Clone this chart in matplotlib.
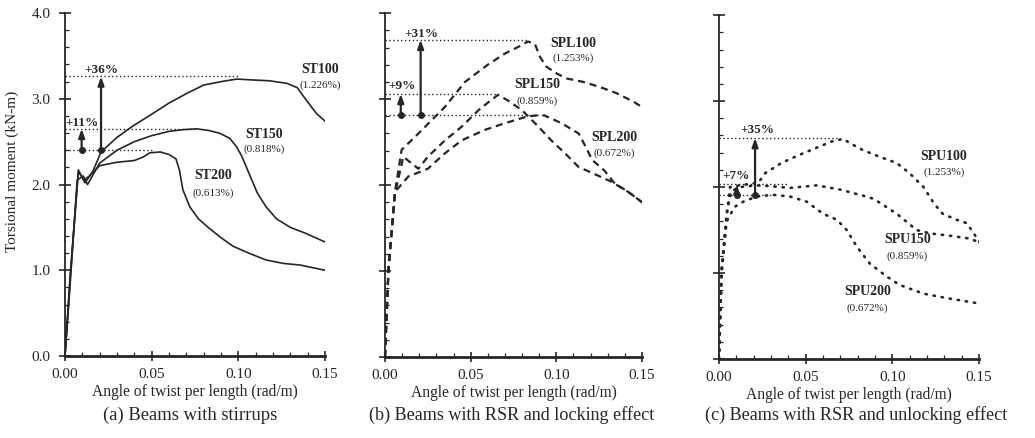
import matplotlib
matplotlib.use("Agg")
import matplotlib.pyplot as plt
from matplotlib.ticker import MultipleLocator

plt.rcParams['font.family'] = ['Liberation Serif', 'DejaVu Serif']

ink = '#262626'

# (a) beams with stirrups
st100_x = [0, 0.003, 0.0077, 0.0115, 0.016, 0.0208, 0.03, 0.039, 0.05, 0.06, 0.07, 0.08,
           0.09, 0.099, 0.108, 0.118, 0.128, 0.134, 0.139, 0.145, 0.15]
st100_y = [0, 0.9, 2.17, 2.02, 2.15, 2.38, 2.55, 2.68, 2.82, 2.95, 3.06, 3.16,
           3.2, 3.23, 3.22, 3.21, 3.18, 3.13, 2.99, 2.83, 2.74]
st150_x = [0, 0.003, 0.007, 0.0105, 0.013, 0.02, 0.03, 0.04, 0.05, 0.06, 0.068, 0.076,
           0.083, 0.089, 0.095, 0.099, 0.102, 0.107, 0.111, 0.116, 0.122, 0.13, 0.139, 0.15]
st150_y = [0, 0.85, 2.05, 2.1, 2.0, 2.25, 2.4, 2.5, 2.57, 2.62, 2.64, 2.65,
           2.63, 2.6, 2.54, 2.44, 2.33, 2.09, 1.9, 1.74, 1.6, 1.5, 1.43, 1.33]
st200_x = [0, 0.003, 0.0077, 0.011, 0.014, 0.02, 0.03, 0.04, 0.045, 0.049, 0.055, 0.06,
           0.064, 0.066, 0.068, 0.072, 0.077, 0.082, 0.09, 0.097, 0.106, 0.116, 0.126, 0.136, 0.15]
st200_y = [0, 0.95, 2.15, 2.05, 2.1, 2.22, 2.26, 2.28, 2.32, 2.37, 2.38, 2.35,
           2.3, 2.17, 1.94, 1.74, 1.6, 1.51, 1.38, 1.28, 1.2, 1.12, 1.08, 1.06, 1.0]

# (b) RSR, locking effect
spl100_x = [0, 0.002, 0.0058, 0.0097, 0.0195, 0.027, 0.035, 0.0467, 0.06, 0.07, 0.079,
            0.0835, 0.0875, 0.0905, 0.094, 0.1, 0.106, 0.1157, 0.1255, 0.135, 0.145, 0.1507]
spl100_y = [0, 1.05, 1.92, 2.41, 2.6, 2.75, 2.91, 3.2, 3.4, 3.53, 3.62,
            3.67, 3.64, 3.49, 3.38, 3.3, 3.24, 3.2, 3.14, 3.07, 2.97, 2.9]
spl150_x = [0, 0.002, 0.0058, 0.0107, 0.0156, 0.0195, 0.025, 0.035, 0.0448, 0.0545, 0.062,
            0.066, 0.072, 0.08, 0.0895, 0.097, 0.105, 0.113, 0.121, 0.132, 0.142, 0.1507]
spl150_y = [0, 1.0, 1.9, 2.33, 2.25, 2.19, 2.33, 2.52, 2.68, 2.87, 2.99,
            3.05, 2.98, 2.87, 2.68, 2.52, 2.37, 2.21, 2.14, 2.04, 1.92, 1.79]
spl200_x = [0, 0.002, 0.0058, 0.0136, 0.025, 0.035, 0.0448, 0.058, 0.07, 0.0817, 0.088,
            0.093, 0.103, 0.113, 0.117, 0.121, 0.128, 0.134, 0.142, 0.1507]
spl200_y = [0, 1.0, 1.92, 2.1, 2.19, 2.37, 2.52, 2.64, 2.72, 2.79, 2.81,
            2.81, 2.72, 2.6, 2.45, 2.29, 2.17, 2.02, 1.92, 1.79]

# (c) RSR, unlocking effect
spu100_x = [0, 0.0015, 0.0044, 0.0063, 0.012, 0.0227, 0.0265, 0.036, 0.0458, 0.0554, 0.065,
            0.0717, 0.0756, 0.083, 0.093, 0.1025, 0.11, 0.118, 0.124, 0.129, 0.137, 0.143,
            0.147, 0.1506]
spu100_y = [0, 1.07, 1.65, 2.0, 2.02, 2.05, 2.16, 2.28, 2.37, 2.45, 2.53,
            2.56, 2.51, 2.43, 2.35, 2.28, 2.16, 2.0, 1.81, 1.69, 1.62, 1.58, 1.46, 1.35]
spu150_x = [0, 0.0015, 0.0044, 0.007, 0.012, 0.0217, 0.03, 0.041, 0.0564, 0.07, 0.085,
            0.0895, 0.1025, 0.114, 0.122, 0.131, 0.145, 0.1506]
spu150_y = [0, 1.0, 1.7, 1.95, 2.0, 2.02, 2.01, 1.99, 2.02, 1.97, 1.89,
            1.86, 1.69, 1.5, 1.46, 1.44, 1.4, 1.35]
spu200_x = [0, 0.0015, 0.0044, 0.009, 0.014, 0.0217, 0.031, 0.041, 0.0506, 0.06, 0.068,
            0.0737, 0.0794, 0.087, 0.0967, 0.1044, 0.118, 0.131, 0.1487]
spu200_y = [0, 1.0, 1.6, 1.77, 1.83, 1.89, 1.91, 1.89, 1.83, 1.69, 1.62,
            1.5, 1.31, 1.11, 0.96, 0.86, 0.76, 0.71, 0.65]

xticks = [0.0, 0.05, 0.10, 0.15]
xtick_labels = ['0.00', '0.05', '0.10', '0.15']
yticks = [0.0, 1.0, 2.0, 3.0, 4.0]
ytick_labels = ['0.0', '1.0', '2.0', '3.0', '4.0']

fig = plt.figure(figsize=(10.35, 4.38), dpi=100)
ax_a = fig.add_axes([0.0628, 0.1872, 0.2512, 0.783])
ax_b = fig.add_axes([0.372, 0.185, 0.2483, 0.785])
ax_c = fig.add_axes([0.6947, 0.1804, 0.2512, 0.785])


def style_axes(ax, show_ylabels):
    ax.set_xlim(0, 0.15)
    ax.set_ylim(0, 4.0)
    for s in ['top', 'right']:
        ax.spines[s].set_visible(False)
    ax.spines['left'].set_linewidth(1.3)
    ax.spines['bottom'].set_linewidth(2.0)
    ax.spines['left'].set_color(ink)
    ax.spines['bottom'].set_color(ink)
    ax.set_xticks(xticks)
    ax.set_xticklabels(xtick_labels)
    ax.xaxis.set_minor_locator(MultipleLocator(0.01))
    ax.set_yticks(yticks)
    ax.yaxis.set_minor_locator(MultipleLocator(0.2))
    if show_ylabels:
        ax.set_yticklabels(ytick_labels)
    else:
        ax.set_yticklabels([])
    ax.tick_params(which='major', direction='inout', length=9, width=1.2, colors=ink,
                   labelsize=11, pad=6)
    ax.tick_params(which='minor', direction='in', length=3, width=0.9, colors=ink)
    ax.tick_params(axis='x', which='major', length=7, pad=5)
    ax.set_xlabel('Angle of twist per length (rad/m)', fontsize=11.2, color=ink, labelpad=2)


def draw_gain(ax, base, levels, ends, arrow_x, labels, label_pos):
    ax.plot([0, ends[0]], [base, base], ls=(0, (1, 1.8)), lw=1.0, color=ink, clip_on=False)
    for lev, e in zip(levels, ends[1:]):
        ax.plot([0, e], [lev, lev], ls=(0, (1, 1.8)), lw=1.0, color=ink, clip_on=False)
    for lev, xa in zip(levels, arrow_x):
        ax.annotate('', xy=(xa, lev), xytext=(xa, base),
                    arrowprops=dict(arrowstyle='-|>,head_length=0.5,head_width=0.18',
                                    lw=1.6, color=ink, shrinkA=0, shrinkB=0))
        ax.plot([xa], [base], marker='o', ms=4, color=ink)
    for lab, (tx, ty) in zip(labels, label_pos):
        ax.text(tx, ty, lab, fontsize=9.5, fontweight='bold', color=ink,
                ha='center', va='center')


def curve_label(ax, x, y, name, pct, dy):
    ax.text(x, y, name, fontsize=10, fontweight='bold', color=ink, ha='center', va='center',
            clip_on=False)
    ax.text(x, y - dy, pct, fontsize=8, color=ink, ha='center', va='center', clip_on=False)


# panel a
style_axes(ax_a, True)
for xs, ys in [(st100_x, st100_y), (st150_x, st150_y), (st200_x, st200_y)]:
    ax_a.plot(xs, ys, color=ink, lw=1.2)
draw_gain(ax_a, 2.40, [2.65, 3.26], [0.05, 0.075, 0.10], [0.0096, 0.0208],
          ['+11%', '+36%'], [(0.0098, 2.72), (0.0207, 3.34)])
curve_label(ax_a, 0.147, 3.34, 'ST100', '(1.226%)', 0.18)
curve_label(ax_a, 0.115, 2.58, 'ST150', '(0.818%)', 0.17)
curve_label(ax_a, 0.0855, 2.11, 'ST200', '(0.613%)', 0.21)

# panel b
style_axes(ax_b, False)
for xs, ys in [(spl100_x, spl100_y), (spl150_x, spl150_y), (spl200_x, spl200_y)]:
    ax_b.plot(xs, ys, color=ink, lw=1.6, ls=(0, (3.2, 2.2)))
draw_gain(ax_b, 2.81, [3.06, 3.69], [0.09, 0.066, 0.083], [0.0092, 0.0208],
          ['+9%', '+31%'], [(0.0099, 3.15), (0.021, 3.76)])
curve_label(ax_b, 0.1097, 3.65, 'SPL100', '(1.253%)', 0.17)
curve_label(ax_b, 0.089, 3.17, 'SPL150', '(0.859%)', 0.2)
curve_label(ax_b, 0.134, 2.55, 'SPL200', '(0.672%)', 0.18)

# panel c
style_axes(ax_c, False)
for xs, ys in [(spu100_x, spu100_y), (spu150_x, spu150_y), (spu200_x, spu200_y)]:
    ax_c.plot(xs, ys, color=ink, lw=1.9, ls=(0, (0.5, 2.6)), dash_capstyle='round')
draw_gain(ax_c, 1.91, [2.03, 2.57], [0.03, 0.04, 0.07], [0.0102, 0.0208],
          ['+7%', '+35%'], [(0.0098, 2.13), (0.0219, 2.66)])
curve_label(ax_c, 0.1298, 2.36, 'SPU100', '(1.253%)', 0.19)
curve_label(ax_c, 0.1087, 1.395, 'SPU150', '(0.859%)', 0.2)
curve_label(ax_c, 0.0857, 0.78, 'SPU200', '(0.672%)', 0.19)

fig.text(12 / 1035, 1 - 171 / 438, 'Torsional moment (kN-m)', rotation=90, fontsize=11,
         color=ink, ha='center', va='center')
cap_y = 1 - 415 / 438
fig.text(190 / 1035, cap_y, '(a) Beams with stirrups', fontsize=13.4, color=ink,
         ha='center', va='center')
fig.text(512 / 1035, cap_y, '(b) Beams with RSR and locking effect', fontsize=13.1,
         color=ink, ha='center', va='center')
fig.text(856 / 1035, cap_y, '(c) Beams with RSR and unlocking effect', fontsize=13.1,
         color=ink, ha='center', va='center')

fig.savefig('out.png', dpi=100)
